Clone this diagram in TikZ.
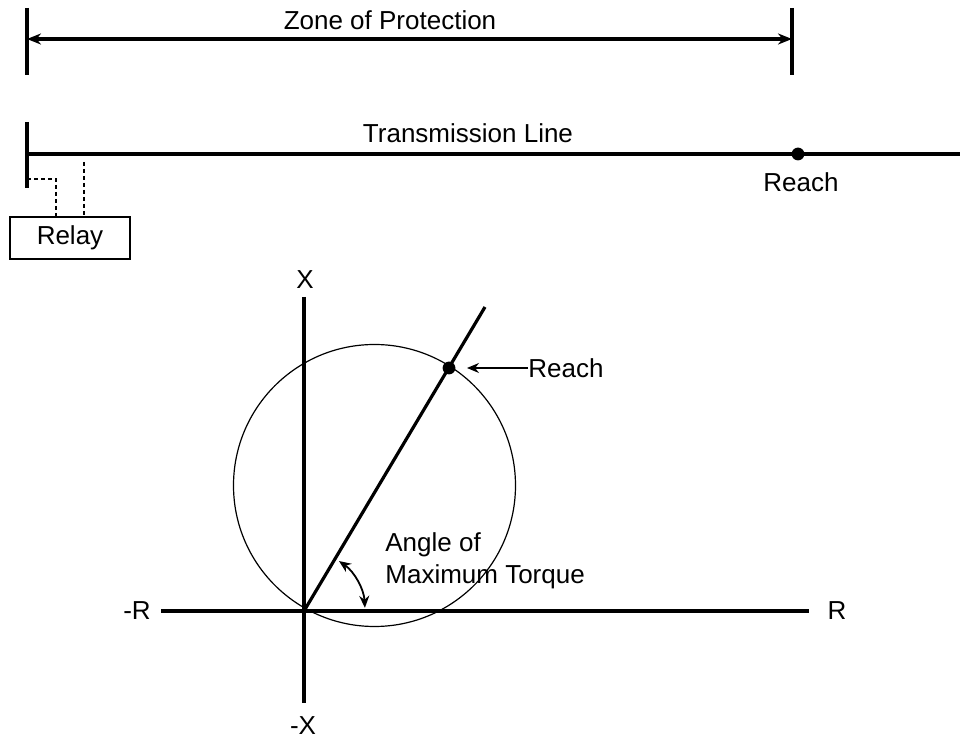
\documentclass[tikz,border=0pt]{standalone}
\usepackage{fontspec}
\setmainfont{Liberation Sans}
\usetikzlibrary{arrows.meta}
\tikzset{
    heavy/.style={line width=1.6pt},
    thinline/.style={line width=0.6pt},
    dashline/.style={line width=0.7pt, dash pattern=on 2pt off 1.5pt},
    bigtip/.tip={Stealth[length=7pt,width=5.5pt]},
    smalltip/.tip={Stealth[length=6pt,width=5pt]},
    lbl/.style={font=\fontsize{13}{16}\selectfont, inner sep=0pt}
}
\begin{document}
\begin{tikzpicture}[x=0.5pt,y=-0.5pt]
        \useasboundingbox (0,0) rectangle (960,742);
        % zone of protection
        \foreach \x in {27,792} {
            \draw[heavy] (\x,8) -- (\x,75);
        }
        \coordinate (zl) at (27,39);
        \coordinate (zr) at (792,39);
        \draw[heavy, bigtip-bigtip] (zl) -- (zr);
        \node[lbl] (zone) at (390,20) {Zone of Protection};
        % transmission line and relay
        \draw[heavy] (27,122) -- (27,188);
        \coordinate (ts) at (27,154);
        \coordinate (te) at (960,154);
        \draw[heavy] (ts) -- (te);
        \node[lbl] (tline) at (468,133) {Transmission Line};
        \fill (798,154) circle (3.2pt) coordinate (treach);
        \node[lbl] (treachlbl) at (801,182) {Reach};
        \node[lbl, draw, thinline, minimum width=60pt, minimum height=21pt] (relay) at (70,238) {Relay};
        \draw[dashline] (27,179) -| (relay.north -| 56,0);
        \draw[dashline] (84,162) -- (relay.north -| 84,0);
        % impedance plane
        \coordinate (O) at (304,611);
        \draw[heavy] (304,297) -- (304,703);
        \draw[heavy] (161,611) -- (809,611);
        \node[lbl] (xp) at (305,280) {X};
        \node[lbl] (xm) at (303,726) {-X};
        \node[lbl] (rm) at (137,611) {-R};
        \node[lbl] (rp) at (837,611) {R};
        \draw[thinline] (374.5,485.5) circle (70.5pt);
        \draw[heavy] (O) -- (485,307);
        \fill (449,368) circle (3.2pt) coordinate (reach);
        \node[lbl, anchor=west] (reachlbl) at (528,368) {Reach};
        \draw[thinline, -smalltip] (reachlbl.west) -- ([xshift=9pt]reach);
        \draw[line width=0.9pt, smalltip-smalltip] ([shift={(55:30.5pt)}]O) arc[start angle=55, end angle=3, radius=30.5pt];
        \node[lbl, anchor=west, align=left] (mta) at (385,561) {Angle of\\Maximum Torque};
\end{tikzpicture}
\end{document}
